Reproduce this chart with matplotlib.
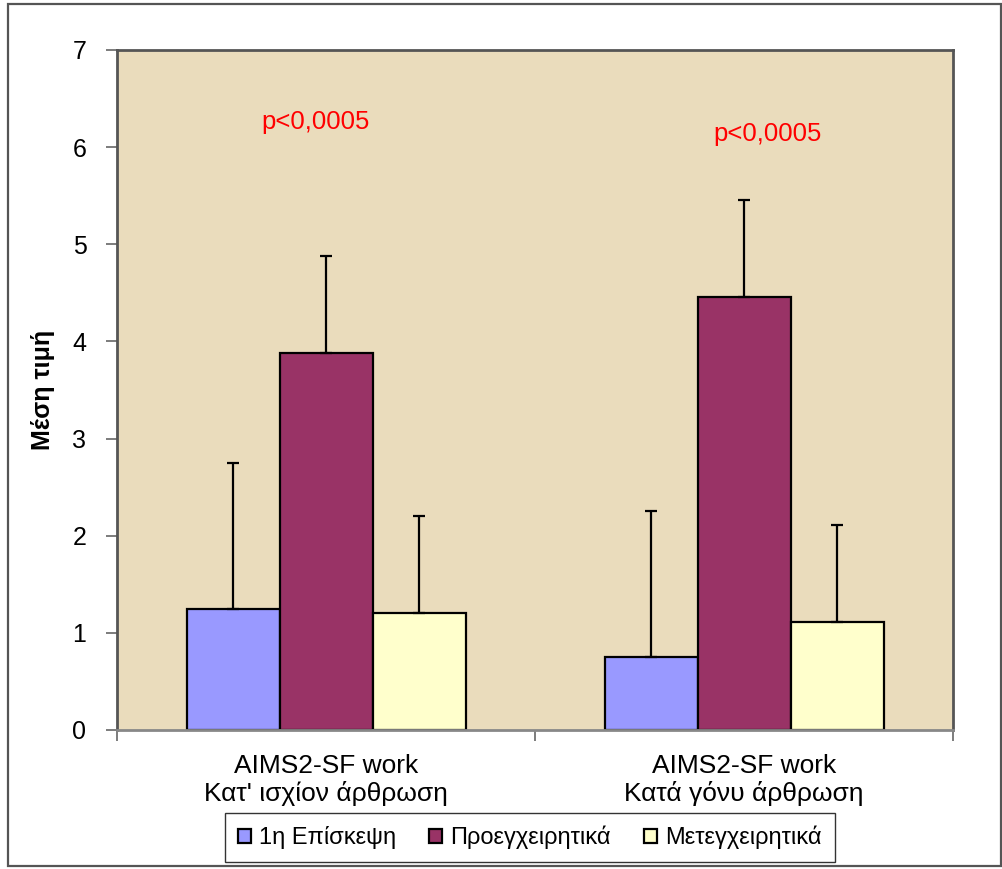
import numpy as np
import matplotlib
matplotlib.use('Agg')
from matplotlib import pyplot as plt
from matplotlib.patches import Rectangle

plt.rcParams['font.family'] = ['Liberation Sans', 'DejaVu Sans']

# data
categories = ["AIMS2-SF work\nΚατ' ισχίον άρθρωση", "AIMS2-SF work\nΚατά γόνυ άρθρωση"]
series = ['1η Επίσκεψη', 'Προεγχειρητικά', 'Μετεγχειρητικά']
means = [[1.25, 0.75], [3.88, 4.46], [1.20, 1.11]]
errs = [[1.5, 1.5], [1.0, 1.0], [1.0, 1.0]]
colors = ['#9999FF', '#993366', '#FFFFCC']
pvalues = ['p<0,0005', 'p<0,0005']

fig = plt.figure(figsize=(10.03, 8.69), dpi=100)
ax = fig.add_axes([0.1167, 0.1600, 0.8335, 0.7825])
ax.set_facecolor('#EADCBC')

x = np.arange(len(categories)) + 0.5
w = 0.2225
for i in range(len(series)):
    ax.bar(x + (i - 1) * w, means[i], w, color=colors[i], edgecolor='black',
           linewidth=1.6, label=series[i], zorder=2)
    ax.errorbar(x + (i - 1) * w, means[i], yerr=[np.zeros(len(x)), errs[i]],
                fmt='none', ecolor='black', elinewidth=1.6, capsize=4.3,
                capthick=1.6, zorder=3)

ax.text(0.474, 6.26, pvalues[0], color='red', fontsize=18.5, ha='center', va='center')
ax.text(1.555, 6.13, pvalues[1], color='red', fontsize=18.5, ha='center', va='center')

ax.set_xlim(0, 2)
ax.set_ylim(0, 7)
ax.set_yticks(range(8))
ax.set_xticks([0, 1, 2])
ax.set_xticklabels([])
ax.set_xticks(x, minor=True)
ax.set_xticklabels(categories, minor=True, linespacing=1.15)
ax.tick_params(axis='x', which='minor', length=0, pad=17, labelsize=19)
ax.tick_params(axis='x', which='major', length=8, width=1.2, color='#666666', direction='out')
ax.tick_params(axis='y', length=8, width=1.2, color='#666666', pad=14, labelsize=18)
for s in ax.spines.values():
    s.set_color('#555555')
    s.set_linewidth(2)
ax.spines['bottom'].set_color('#888888')

ax.set_ylabel('Μέση τιμή', fontsize=18, fontweight='bold')
ax.yaxis.set_label_coords(-0.074, 0.5)

leg = fig.legend(loc='center', bbox_to_anchor=(0.528, 0.0362), ncol=3, fontsize=17,
                 frameon=True, fancybox=False, edgecolor='black', handlelength=0.55,
                 handleheight=0.55, handletextpad=0.35, columnspacing=1.4,
                 borderpad=0.55)
leg.get_frame().set_linewidth(1.0)

fig.patches.append(Rectangle((8 / 1003, 3 / 869), 993 / 1003, 862 / 869, fill=False,
                             edgecolor='#555555', linewidth=1.6,
                             transform=fig.transFigure, figure=fig))

plt.savefig('out.png', dpi=100)
